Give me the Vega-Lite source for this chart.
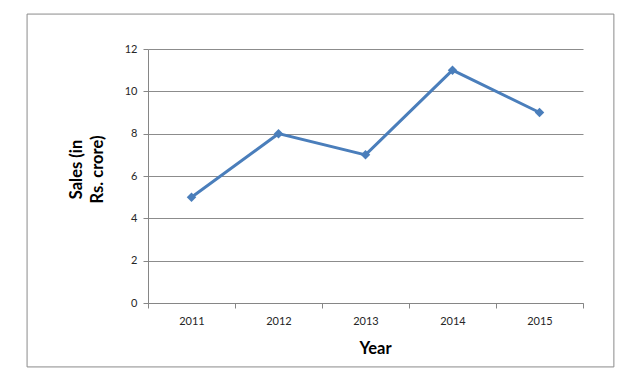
{
  "$schema": "https://vega.github.io/schema/vega-lite/v6.json",
  "width": 435,
  "height": 254,
  "autosize": {"type": "none"},
  "padding": {"left": 148, "top": 49, "right": 49, "bottom": 81},
  "background": "white",
  "config": {
    "view": {"stroke": null},
    "font": "Lato",
    "axis": {"labelFont": "Lato", "titleFont": "Lato", "labelColor": "#262626", "titleColor": "#000000"}
  },
  "data": {"values": [
    {"Year": "2011", "Sales": 5},
    {"Year": "2012", "Sales": 8},
    {"Year": "2013", "Sales": 7},
    {"Year": "2014", "Sales": 11},
    {"Year": "2015", "Sales": 9}
  ]},
  "layer": [
    {
      "mark": {"type": "line", "color": "#4A7EBB", "strokeWidth": 3,
               "point": {"shape": "diamond", "size": 90, "filled": true, "color": "#4A7EBB"}},
      "encoding": {
        "x": {"field": "Year", "type": "ordinal",
              "scale": {"paddingInner": 0, "paddingOuter": 0},
              "axis": {"orient": "bottom", "title": "Year", "labelAngle": 0, "ticks": true, "tickBand": "extent", "domainColor": "#868686", "tickColor": "#868686", "tickSize": 5, "labelFontSize": 11, "labelPadding": 7, "titleFontSize": 16.5, "titleFontWeight": "bold", "titlePadding": 14, "titleX": 227, "grid": false}},
        "y": {"field": "Sales", "type": "quantitative",
              "scale": {"domain": [0, 12], "nice": false},
              "axis": {"values": [0, 2, 4, 6, 8, 10, 12], "grid": true, "title": ["Sales (in", "Rs. crore)"], "titleY": 120, "gridColor": "#8c8c8c", "domainColor": "#868686", "tickColor": "#868686", "tickSize": 5, "labelFontSize": 11, "labelPadding": 6, "titleFontSize": 16.5, "titleFontWeight": "bold", "titlePadding": 19, "titleLineHeight": 21}}
      }
    },
    {
      "data": {"values": [{"frame": 1}]},
      "mark": {"type": "rect", "fillOpacity": 0, "stroke": "#8a8a8a", "strokeWidth": 1},
      "encoding": {
        "x": {"datum": -0.278, "type": "quantitative", "scale": {"domain": [0, 1], "nice": false, "zero": false}, "axis": null},
        "x2": {"datum": 1.071},
        "y": {"datum": 13.65, "type": "quantitative"},
        "y2": {"datum": -3.02}
      }
    }
  ],
  "resolve": {"scale": {"x": "independent"}, "axis": {"x": "independent"}}
}
